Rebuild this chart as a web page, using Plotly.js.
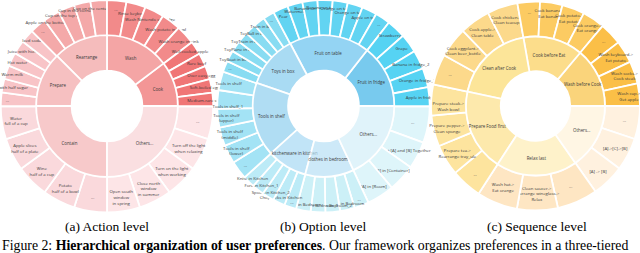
<!DOCTYPE html>
<html><head><meta charset="utf-8">
<script src="https://cdn.plot.ly/plotly-3.0.1.min.js"></script>
<style>html,body{margin:0;padding:0;background:#fff}#chart{width:640px;height:253px}</style>
</head><body><div id="chart"></div>
<script>
// ---------- (a) Action level ----------
const actionRoot = 'Action Level';
const actionCats = ['Cook', 'Wash', 'Rearrange', 'Prepare', 'Contain', 'Others...'];
const actionCatColors = ['#ee6b6b', '#f08080', '#f2a0a0', '#f3a6a8', '#f5b3b5', '#f9d2d5'];
const actionLeafColors = ['#f07676', '#f28a8a', '#f4a9a9', '#f8c4c7', '#fad9dc', '#fde5e7'];
const actionLeafLabels = [
  'Medium-rare steak', 'Soft-boiled egg', 'Over easy egg', 'Rare beef', 'Well-cooked apple',
  'Wash orange in sink', 'Wash potato in bowl', 'Wash Nintendo cartridge', 'Rinse keyboard', '...',
  'Cup on the center of table', 'Cup in the corner of table', 'Cup on the top of fridge', 'Apple on the bottom of fridge', '...',
  'Iced soda', 'Juice with honey', 'Hot water', 'Warm milk', 'Tea with half sugar', '...',
  'Water<br>full of a cup', 'Apple slices<br>half of a plate', 'Wine<br>half of a cup', 'Potato<br>half of a bowl', '...',
  'Open south<br>window<br>in spring', 'Close north<br>window<br>in summer', 'Turn on the light<br>when working', 'Turn off the light<br>when relaxing', '...'
];
const actionLeafParents = [
  'Cook','Cook','Cook','Cook','Cook',
  'Wash','Wash','Wash','Wash','Wash',
  'Rearrange','Rearrange','Rearrange','Rearrange','Rearrange',
  'Prepare','Prepare','Prepare','Prepare','Prepare','Prepare',
  'Contain','Contain','Contain','Contain','Contain',
  'Others...','Others...','Others...','Others...','Others...'
];
const actionLeafValues = [
  7.4, 7.4, 7.4, 7.4, 7.4,
  10.6, 10.6, 10.6, 10.6, 10.6,
  9, 9, 9, 9, 9,
  7.5, 7.5, 7.5, 7.5, 7.5, 7.5,
  18, 18, 18, 18, 18,
  18, 18, 18, 18, 18
];

// ---------- (b) Option level ----------
const optionRoot = 'Option Level';
const optionCats = ['Fruit in fridge', 'Fruit on table', 'Toys in box', 'Tools in shelf', 'kitchenware in kitchen', 'clothes in bedroom', 'Others...'];
const optionCatColors = ['#3fb4e8', '#68c2ee', '#86ccef', '#8fd0ef', '#a8d9f5', '#b8e1f6', '#d3eef8'];
const optionLeafColors = ['#56d3f3', '#62d4f2', '#88dcf2', '#a3e3f5', '#bcebf7', '#ccf0f7', '#def5fa'];
const optionLeafLabels = [
  'Apple in fridge', 'Orange in fridge_2', 'Banana in fridge_2', 'Grape', 'Strawberry',
  '...', 'Apple on table', 'Orange on table_3', 'Orange on table_2', 'Banana on table_2', 'Banana on table', 'Watermelon', 'Pear',
  '...', 'Train in box', 'ToyBall in box', 'ToyTrain in box', 'ToyPlane in box', 'ToyBoat in box', '...',
  'Tools in shelf', 'Tools in shelf_1', 'Tools in shelf<br>(upper)', 'Tools in shelf<br>(middle)', 'Tools in shelf<br>(lower)', '...',
  'Knife in Kitchen', 'Fork in Kitchen_1', 'Spoon in Kitchen_2', 'Chopsticks in Kitchen', '...',
  'Shirt in Bedroom', 'Pants in Bedroom_1', 'Socks in Bedroom_2', 'Shoes in Bedroom', '...',
  '[A] in [Room]', '[B] in [Container]', 'Put [A] and [B] Together', '...'
];
const optionLeafParents = [
  'Fruit in fridge','Fruit in fridge','Fruit in fridge','Fruit in fridge','Fruit in fridge',
  'Fruit on table','Fruit on table','Fruit on table','Fruit on table','Fruit on table','Fruit on table','Fruit on table','Fruit on table',
  'Toys in box','Toys in box','Toys in box','Toys in box','Toys in box','Toys in box','Toys in box',
  'Tools in shelf','Tools in shelf','Tools in shelf','Tools in shelf','Tools in shelf','Tools in shelf',
  'kitchenware in kitchen','kitchenware in kitchen','kitchenware in kitchen','kitchenware in kitchen','kitchenware in kitchen',
  'clothes in bedroom','clothes in bedroom','clothes in bedroom','clothes in bedroom','clothes in bedroom',
  'Others...','Others...','Others...','Others...'
];
const optionLeafValues = [
  10.4, 10.4, 10.4, 10.4, 10.4,
  8.25, 8.25, 8.25, 8.25, 8.25, 8.25, 8.25, 8.25,
  6.15, 6.15, 6.15, 6.15, 6.15, 6.15, 6.1,
  10.2, 10.2, 10.2, 10.2, 10.2, 10,
  6.6, 6.6, 6.6, 6.6, 6.6,
  8, 8, 8, 8, 8,
  15, 15, 15, 20
];

// ---------- (c) Sequence level ----------
const seqRoot = 'Sequence Level';
const seqCats = ['Wash before Cook', 'Cook before Eat', 'Clean after Cook', 'Prepare Food first', 'Relax last', 'Others...'];
const seqCatColors = ['#f9c244', '#fbd05b', '#fcdb6e', '#fde089', '#feedb5', '#fff3da'];
const seqLeafColors = ['#fbbf47', '#fccb62', '#fcd98b', '#fde49e', '#fee6c3', '#fff1df'];
const seqLeafLabels = [
  'Wash cup-><br>Get apple', 'Wash socks-><br>Cook steak', 'Wash keyboard-><br>Eat potato', '...',
  'Cook orange-><br>Eat orange', 'Cook potato-><br>Eat potato', 'Cook banana-><br>Eat banana', '...',
  'Cook chicken-><br>Clean teacup', 'Cook apple-><br>Clean table', 'Cook eggplant-><br>Clean beer_bottle', '...',
  'Prepare steak-><br>Wash bowl', 'Prepare pepper-><br>Clean sponge', 'Prepare tea-><br>Rearrange tray_ule', '...',
  'Wash hat-><br>Eat orange', 'Clean saucer-><br>Rearrange wineglass-><br>Relax', '...',
  '[A] -> [B]', '[A]->[C]->[B]', '...'
];
const seqLeafParents = [
  'Wash before Cook','Wash before Cook','Wash before Cook','Wash before Cook',
  'Cook before Eat','Cook before Eat','Cook before Eat','Cook before Eat',
  'Clean after Cook','Clean after Cook','Clean after Cook','Clean after Cook',
  'Prepare Food first','Prepare Food first','Prepare Food first','Prepare Food first',
  'Relax last','Relax last','Relax last',
  'Others...','Others...','Others...'
];
const seqLeafValues = [
  12.5, 12.5, 12.5, 12.5,
  12.5, 12.5, 12.5, 12.5,
  17, 17, 17, 17,
  17.25, 17.25, 17.25, 17.25,
  22.7, 22.7, 22.6,
  18.3, 18.3, 18.4
];

const captions = ['(a) Action level', '(b) Option level', '(c) Sequence level'];
const figureCaption = 'Figure 2: <b>Hierarchical organization of user preferences</b>. Our framework organizes preferences in a three-tiered';

const W = 640, H = 253;
const FONT = 'Open Sans, DejaVu Sans, sans-serif';

function domainFor(cx, cy, r) {
  return { x: [Math.max(0, (cx - r) / W), Math.min(1, (cx + r) / W)], y: [Math.max(0, (H - (cy + r)) / H), Math.min(1, (H - (cy - r)) / H)] };
}

function buildTraces(root, cats, catColors, leafColors, leafLabels, leafParents, leafValues, cx, cy, R) {
  const R1 = R * 0.665;
  // inner ring: sunburst with root + categories
  const catSums = cats.map(c => leafValues.reduce((s, v, i) => s + (leafParents[i] === c ? v : 0), 0));
  const total = catSums.reduce((a, b) => a + b, 0);
  const sb = {
    type: 'sunburst',
    ids: [root].concat(cats), labels: [''].concat(cats), parents: [''].concat(cats.map(() => root)),
    values: [total].concat(catSums), branchvalues: 'total', sort: false, rotation: 0,
    textinfo: 'label', insidetextorientation: 'horizontal',
    textfont: { family: FONT, size: 5.2, color: '#3a3a3a' },
    marker: { colors: ['#ffffff'].concat(catColors), line: { color: '#ffffff', width: 1.8 } },
    hoverinfo: 'none', domain: domainFor(cx, cy, R1)
  };
  // outer ring: leaves, drawn clockwise from 3 o'clock in reversed order (= counter-clockwise in data order)
  const n = leafLabels.length;
  const idx = leafLabels.map((_, i) => n - 1 - i);
  const pie = {
    type: 'pie', sort: false, direction: 'clockwise', rotation: 90, hole: R1 / R,
    labels: idx.map(i => leafParents[i] + '/' + i),
    values: idx.map(i => leafValues[i]),
    text: idx.map(i => leafLabels[i]),
    textinfo: 'text', textposition: 'inside', insidetextorientation: 'horizontal',
    textfont: { family: FONT, size: 4.3, color: '#3a3a3a' },
    marker: { colors: idx.map(i => leafColors[cats.indexOf(leafParents[i])]), line: { color: '#ffffff', width: 1.8 } },
    title: { text: '<b>' + root + '</b>', position: 'middle center', font: { family: FONT, size: 6.8, color: '#222222' } },
    hoverinfo: 'none', showlegend: false, domain: domainFor(cx, cy, R)
  };
  return [sb, pie];
}

const centersX = [107, 323.5, 535.5];
const centerY = 106;
const radii = [106.5, 106.5, 104.5];

const data = [].concat(
  buildTraces(actionRoot, actionCats, actionCatColors, actionLeafColors, actionLeafLabels, actionLeafParents, actionLeafValues, centersX[0], centerY, radii[0]),
  buildTraces(optionRoot, optionCats, optionCatColors, optionLeafColors, optionLeafLabels, optionLeafParents, optionLeafValues, centersX[1], centerY, radii[1]),
  buildTraces(seqRoot, seqCats, seqCatColors, seqLeafColors, seqLeafLabels, seqLeafParents, seqLeafValues, centersX[2], centerY, radii[2])
);

const capX = [107, 323, 537];
const annotations = captions.map((t, i) => ({
  text: t, x: capX[i] / W, y: 1 - 226 / H, xref: 'paper', yref: 'paper',
  xanchor: 'center', yanchor: 'middle', showarrow: false,
  font: { family: 'Liberation Serif, Times New Roman, serif', size: 13.5, color: '#000' }
}));
annotations.push({
  text: figureCaption, x: 0, y: 1 - 245 / H, xref: 'paper', yref: 'paper',
  xanchor: 'left', yanchor: 'middle', showarrow: false,
  font: { family: 'Liberation Serif, Times New Roman, serif', size: 13.8, color: '#000' }
});

const layout = {
  width: W, height: H, margin: { l: 0, r: 0, t: 0, b: 0 },
  paper_bgcolor: '#ffffff', showlegend: false, annotations: annotations,
  uniformtext: { mode: 'show', minsize: 4.3 }
};
Plotly.newPlot('chart', data, layout, { displayModeBar: false, staticPlot: true });
</script></body></html>
